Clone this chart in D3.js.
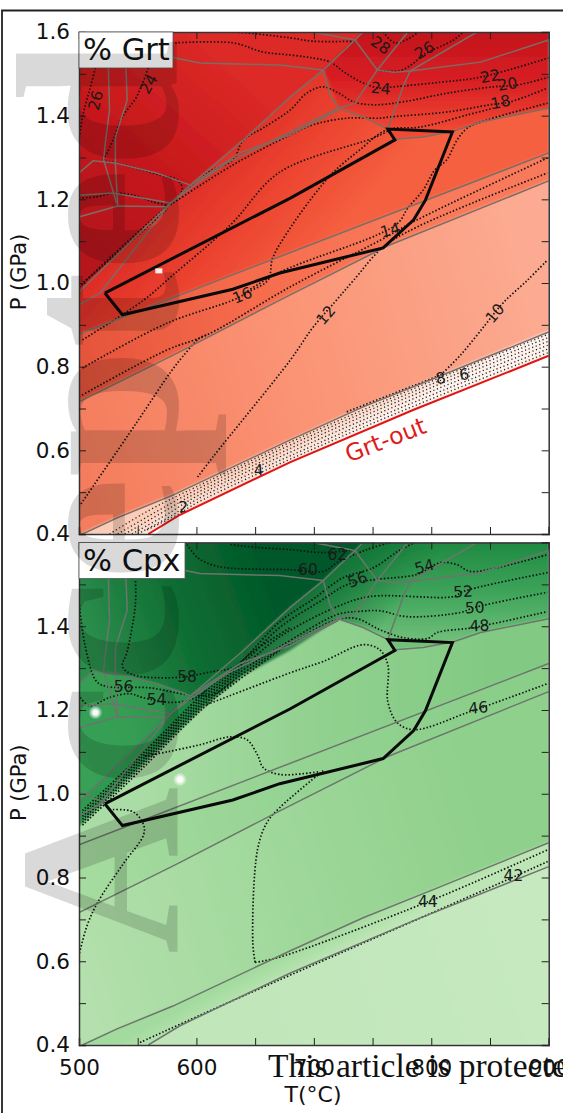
<!DOCTYPE html>
<html><head><meta charset="utf-8">
<script src="https://cdn.jsdelivr.net/npm/d3@7"></script>
<style>html,body{margin:0;padding:0;background:#fff;overflow:hidden}svg{display:block}text{font-family:"DejaVu Sans",sans-serif}</style>
</head><body><svg id="c" width="563" height="1113"></svg>
<script>
// ---- axis values
const tempTicks=[500,550,600,650,700,750,800,850,900];
const tempLabels=[500,600,700,800,900];
const presTicks=[0.4,0.5,0.6,0.7,0.8,0.9,1.0,1.1,1.2,1.3,1.4,1.5,1.6];
const presLabels=[0.4,0.6,0.8,1.0,1.2,1.4,1.6];
// ---- assemblage boundaries, [T, P]
const lineA=[[500,.878],[900,1.311]];
const lineB=[[500,.716],[584,.833],[671,.959],[763,1.089],[900,1.244]];
const lineBand=[[503,.4],[532,.438],[580,.493],[680,.625],[742,.704],[799,.768],[900,.883]];
const lineGrtOut=[[559,.4],[586,.446],[680,.572],[785,.697],[900,.826]];
const bounds=[
 lineA,lineB,lineBand,
 [[500,.979],[578,1.191],[595,1.234],[640,1.342],[680,1.445],[708,1.509],[735,1.581],[742,1.6]],
 [[500,.948],[518,.976],[578,1.191]],
 [[578,1.191],[595,1.227],[626,1.287],[680,1.361],[721,1.418]],
 [[595,1.234],[637,1.311],[680,1.354],[721,1.414]],
 [[721,1.418],[714,1.449],[708,1.509]],
 [[721,1.418],[735,1.43],[754,1.509],[780,1.6]],
 [[721,1.418],[742,1.397],[763,1.368]],
 [[754,1.509],[735,1.581]],
 [[754,1.509],[768,1.504],[782,1.507],[839,1.6]],
 [[782,1.507],[842,1.528],[900,1.581]],
 [[782,1.507],[776,1.469],[763,1.368]],
 [[763,1.368],[769,1.344],[793,1.349],[819,1.363],[842,1.385],[900,1.418]],
 [[708,1.509],[671,1.521],[603,1.526],[582,1.538],[569,1.557]],
 [[735,1.581],[699,1.6]],
 [[525,1.6],[525,1.514],[526,1.414],[522,1.325],[521,1.294],[532,1.191]],
 [[540,1.6],[540,1.514],[541,1.437],[531,1.349],[531,1.287],[533,1.182]],
 [[500,1.263],[512,1.292],[531,1.287],[566,1.263],[595,1.234]],
 [[500,1.21],[529,1.215],[578,1.191]],
 [[500,1.158],[533,1.184],[575,1.182],[578,1.191]]
];
const cpxExtraBounds=[lineGrtOut,[[500,1.005],[522,.979]]];
// ---- sampled P-T window
const windowPoly=[[522,.976],[537,.924],[631,.985],[671,1.024],[759,1.084],[785,1.151],[795,1.198],[818,1.361],[763,1.368],[769,1.342],[680,1.203],[522,.976]];
// ---- garnet isopleths
const grtIso=[
 [[514,1.514],[509,1.461],[503,1.397],[500,1.342]],
 [[559,1.514],[549,1.445],[537,1.397],[529,1.342],[524,1.311],[521,1.294],[532,1.287],[569,1.258],[584,1.246],[588,1.222],[578,1.191]],
 [[500,1.203],[515,1.206],[529,1.215],[546,1.21],[563,1.194],[575,1.182],[560,1.139],[504,1.002]],
 [[500,.99],[530,1.07],[578,1.191]],
 [[582,1.6],[631,1.6],[680,1.586],[699,1.578],[735,1.578]],
 [[759,1.6],[769,1.574],[780,1.583],[789,1.6]],
 [[582,1.574],[631,1.574],[657,1.552],[680,1.545],[699,1.538],[714,1.528],[727,1.502],[742,1.478],[756,1.466],[768,1.469],[808,1.48],[842,1.492],[900,1.538]],
 [[754,1.509],[773,1.507],[785,1.526],[793,1.545],[819,1.581],[827,1.6]],
 [[578,1.191],[609,1.263],[631,1.294],[640,1.342],[657,1.371],[680,1.414],[694,1.454],[708,1.469],[721,1.454],[734,1.433],[751,1.426],[776,1.433],[814,1.454],[853,1.469],[873,1.473],[900,1.492]],
 [[578,1.187],[631,1.282],[680,1.354],[699,1.378],[728,1.394],[756,1.394],[765,1.397],[814,1.409],[850,1.426],[867,1.433],[899,1.466]],
 [[503,.864],[555,.959],[580,1.019],[629,1.139],[671,1.265],[751,1.347],[765,1.366]],
 [[503,.797],[575,.904],[631,.959],[646,.981],[661,1.007],[665,1.06],[680,1.132],[699,1.206],[716,1.263],[739,1.318],[762,1.366],[791,1.373],[831,1.402],[853,1.418]],
 [[641,.976],[671,1.026],[754,1.115],[772,1.144],[780,1.179],[793,1.222],[803,1.27],[813,1.294],[822,1.342],[831,1.371],[848,1.39],[899,1.43]],
 [[500,.728],[575,.84],[609,.876],[680,.991],[757,1.103],[788,1.151],[899,1.299]],
 [[601,.536],[614,.584],[680,.816],[699,.893],[718,.955],[734,1.007],[759,1.086],[788,1.134],[899,1.263]],
 [[500,.465],[549,.666],[578,.787],[588,.823],[603,.869],[609,.876]],
 [[808,.78],[825,.828],[846,.9],[861,.952],[882,1.007],[899,1.055]],
 [[728,.692],[808,.78]]
];
const grtBandIso=[
 [[526,.4],[560,.457],[600,.513],[700,.645],[800,.765],[900,.878]],
 [[533,.4],[565,.452],[600,.506],[700,.638],[800,.758],[900,.87]],
 [[539,.4],[570,.45],[600,.498],[700,.63],[800,.75],[900,.861]],
 [[545,.4],[575,.447],[600,.49],[700,.621],[800,.741],[900,.852]],
 [[550,.4],[580,.446],[600,.482],[700,.612],[800,.732],[900,.843]],
 [[558,.41],[585,.448],[600,.474],[700,.604],[800,.723],[900,.834]]
];
const grtLabels=[["26",514,1.437,-75],["24",559,1.476,-60],["28",757,1.569,35],["26",794,1.557,-30],["24",757,1.466,5],["22",850,1.495,-10],["20",865,1.476,-10],["18",859,1.433,-12],["14",765,1.127,-15],["16",639,.971,-22],["12",710,.924,-50],["10",854,.928,-50],["8",808,.773,-10],["6",828,.782,-10],["4",653,.553,-5],["2",589,.465,-5]];
// ---- clinopyroxene isopleths
const cpxIso=[
 [[629,1.595],[652,1.588],[680,1.583],[708,1.576],[735,1.583]],
 [[592,1.595],[601,1.564],[618,1.543],[680,1.535],[708,1.531],[720,1.552],[745,1.583],[765,1.6]],
 [[503,.96],[552,1.09],[606,1.24],[640,1.32],[671,1.411],[699,1.464],[725,1.516],[751,1.54],[771,1.578],[786,1.6]],
 [[503,.953],[552,1.083],[606,1.233],[640,1.312],[671,1.397],[705,1.459],[729,1.5],[754,1.512],[788,1.524],[808,1.552],[822,1.547],[833,1.531],[856,1.54],[899,1.571]],
 [[503,.946],[552,1.076],[606,1.226],[640,1.304],[671,1.375],[720,1.447],[748,1.471],[819,1.471],[827,1.483],[899,1.528]],
 [[503,.939],[552,1.069],[606,1.219],[640,1.296],[671,1.351],[720,1.428],[737,1.435],[756,1.437],[779,1.423],[825,1.433],[837,1.445],[899,1.481]],
 [[503,.932],[552,1.062],[606,1.212],[640,1.288],[671,1.344],[720,1.416],[737,1.418],[756,1.392],[776,1.373],[797,1.371],[805,1.385],[836,1.397],[899,1.435]],
 [[503,.925],[552,1.055],[606,1.205],[640,1.28],[680,1.36]],
 [[548,1.516],[548,1.452],[541,1.339],[537,1.304],[546,1.284],[569,1.277],[592,1.28],[614,1.292],[631,1.301],[648,1.339],[680,1.397]],
 [[500,1.459],[505,1.356],[515,1.268],[524,1.256],[560,1.253],[592,1.237],[614,1.237],[631,1.268]],
 [[501,1.23],[509,1.21],[526,1.23],[543,1.239],[554,1.23],[580,1.218],[600,1.23],[609,1.249]],
 [[556,1.09],[575,1.1],[603,1.117],[629,1.136],[643,1.129],[652,1.093],[657,1.062],[671,1.046],[705,1.053]],
 [[609,1.213],[680,1.289],[708,1.316],[742,1.356],[756,1.344],[763,1.308],[763,1.22],[771,1.17],[785,1.153],[833,1.196],[899,1.263]],
 [[708,1.055],[671,.967],[660,.931],[652,.866],[648,.645],[650,.597]],
 [[650,.597],[671,.61],[797,.742],[899,.866]],
 [[552,.406],[603,.471],[680,.567],[865,.795],[899,.838]],
 [[526,.962],[546,.957],[555,.926],[555,.902],[537,.83],[516,.741],[507,.686],[500,.615]]
];
const cpxLabels=[["62",720,1.571,0],["60",695,1.535,0],["56",737,1.512,-20],["54",794,1.543,-15],["52",827,1.483,-3],["50",837,1.445,-3],["48",841,1.402,-3],["58",592,1.28,0],["56",538,1.256,0],["54",566,1.225,0],["46",840,1.206,-5],["44",797,.742,0],["42",870,.804,0]];
const cpxSpots=[[514,1.194],[586,1.034]];
const grtSpot=[568,1.029];
// ---- stability-field shading: outline, gradient start and end, colours
const polyWedge=[[500,1.6],[742,1.6],[708,1.509],[680,1.445],[640,1.342],[595,1.234],[578,1.191],[500,.979]];
const polyTopRight=[[742,1.6],[900,1.6],[900,1.418],[842,1.385],[819,1.363],[793,1.349],[769,1.344],[763,1.368],[742,1.397],[721,1.418],[708,1.509]];
const polyMid=[[500,.979],[578,1.191],[595,1.234],[640,1.342],[680,1.445],[708,1.509],[721,1.418],[742,1.397],[763,1.368],[769,1.344],[793,1.349],[819,1.363],[842,1.385],[900,1.418],[900,1.311],[500,.878]];
const polyAB=[[500,.878],[900,1.311],[900,1.244],[763,1.089],[671,.959],[584,.833],[500,.716]];
const polyBelow=[[500,.716],[584,.833],[671,.959],[763,1.089],[900,1.244],[900,.883],[799,.768],[742,.704],[680,.625],[580,.493],[532,.438],[503,.4],[500,.4]];
const polyBand=[[503,.4],[532,.438],[580,.493],[680,.625],[742,.704],[799,.768],[900,.883],[900,.826],[785,.697],[680,.572],[586,.446],[559,.4]];
const polyOut=[[559,.4],[586,.446],[680,.572],[785,.697],[900,.826],[900,.4]];
const polyCpxLeft=[[500,1.263],[512,1.292],[531,1.287],[566,1.263],[595,1.234],[578,1.191],[500,.979]];
const polyCpxDiag=[[500,.979],[578,1.191],[595,1.234],[640,1.342],[640,1.28],[606,1.203],[552,1.06],[503,.925],[500,.92]];
const polyCpxFan=[[640,1.342],[680,1.445],[708,1.509],[742,1.6],[900,1.6],[900,1.418],[842,1.385],[819,1.363],[793,1.349],[769,1.344],[763,1.368],[742,1.397],[721,1.415],[680,1.34],[640,1.28]];
const polyCpxLight=[[500,.878],[900,1.311],[900,1.418],[842,1.385],[819,1.363],[793,1.349],[769,1.344],[763,1.368],[742,1.397],[721,1.415],[680,1.34],[640,1.28],[606,1.203],[552,1.06],[503,.925],[500,.92]];
const grtFields=[
 [polyWedge,[510,1.1],[640,1.5],["#b5131a","#c81a1e","#dd2a26"]],
 [polyTopRight,[790,1.6],[790,1.36],["#c2131c","#d92024","#f04a34"]],
 [polyMid,[600,1.3],[700,1.05],["#dc2c27","#ec4430","#f5603f"]],
 [polyAB,[500,.8],[800,1.05],["#e5533a","#f66c4d","#f97a5a"]],
 [polyBelow,[500,.6],[900,.9],["#f47d5d","#fb9576","#fcab92"]],
 [polyBand,[680,.625],[690,.572],["#fbcdb8","#fce0d3","#fef2ec"]]
];
const cpxFields=[
 [polyWedge,[510,1.35],[660,1.5],["#2c8e4c","#0f6e33","#02592a"]],
 [polyCpxLeft,[500,1.1],[590,1.2],["#37a155","#349e53","#2a8f4c"]],
 [polyCpxDiag,[520,1.1],[640,1.3],["#2e9a50","#1f8a44","#0f6f34"]],
 [polyCpxFan,[800,1.6],[800,1.36],["#1f8a42","#3ea45a","#72c07b"]],
 [polyCpxFan,[690,1.58],[765,1.42],["#045a29ff","#0f6f34aa","#0f6f3400"]],
 [polyCpxLight,[550,1.1],[850,1.1],["#aadda5","#92d190","#82ca83"]],
 [polyAB,[500,.8],[850,1.1],["#a6dba0","#96d494","#8bce8a"]],
 [polyBelow,[500,.6],[850,.9],["#b3e0ac","#a0d89b","#8fd08c"]],
 [polyBand,[680,.625],[690,.572],["#a3da9e","#afe0a9","#bde5b5"]],
 [polyOut,[560,.4],[900,.7],["#bfe5b8","#c3e7bc","#c7e9c0"]]
];

const svg=d3.select("#c");
const defs=svg.append("defs");
defs.append("filter").attr("id","soft").attr("filterUnits","userSpaceOnUse")
 .attr("x",0).attr("y",0).attr("width",563).attr("height",1113)
 .append("feGaussianBlur").attr("stdDeviation",0.8);
const rg=defs.append("radialGradient").attr("id","spot");
rg.append("stop").attr("offset",0.35).attr("stop-color","#fff").attr("stop-opacity",.95);
rg.append("stop").attr("offset",1).attr("stop-color","#fff").attr("stop-opacity",0);

svg.append("rect").attr("width",563).attr("height",1113).attr("fill","#fff");
// outer frame
{const p=d3.path();p.moveTo(2,1113);p.lineTo(2,10.5);p.lineTo(563,10.5);
 svg.append("path").attr("d",p.toString()).attr("fill","none").attr("stroke","#222").attr("stroke-width",1.8);}

function panel(id,top,bottom,fields,iso,thinIso,labels,extraBounds,gray,box,boxW,showTop){
 const x=d3.scaleLinear().domain([500,900]).range([79,548.7]);
 const y=d3.scaleLinear().domain([0.4,1.6]).range([bottom,top]);
 const g=svg.append("g");
 defs.append("clipPath").attr("id","clip"+id).append("rect").attr("x",79).attr("y",top).attr("width",469.7).attr("height",bottom-top);
 const plot=g.append("g").attr("clip-path",`url(#clip${id})`);
 const shade=plot.append("g").attr("filter","url(#soft)");
 const poly=d3.line().x(d=>x(d[0])).y(d=>y(d[1]));
 fields.forEach((f,i)=>{
  const gid=`f${id}${i}`;
  const lg=defs.append("linearGradient").attr("id",gid).attr("gradientUnits","userSpaceOnUse")
   .attr("x1",x(f[1][0])).attr("y1",y(f[1][1])).attr("x2",x(f[2][0])).attr("y2",y(f[2][1]));
  f[3].forEach((c,j)=>lg.append("stop").attr("offset",j/(f[3].length-1)).attr("stop-color",c));
  shade.append("path").attr("d",poly(f[0])+"Z").attr("fill",`url(#${gid})`).attr("stroke",`url(#${gid})`).attr("stroke-width",1.5);
 });
 // dotted isopleths
 const smooth=d3.line().x(d=>x(d[0])).y(d=>y(d[1])).curve(d3.curveCatmullRom.alpha(.5));
 plot.selectAll("path.iso").data(iso).join("path").attr("class","iso").attr("d",smooth)
  .attr("fill","none").attr("stroke","#111").attr("stroke-width",1.7).attr("stroke-dasharray","1.5 2");
 plot.selectAll("path.thin").data(thinIso).join("path").attr("class","thin").attr("d",smooth)
  .attr("fill","none").attr("stroke","#222").attr("stroke-width",1.3).attr("stroke-dasharray","1.2 2.6");
 // boundaries
 plot.selectAll("path.bnd").data(bounds.concat(extraBounds)).join("path").attr("class","bnd").attr("d",poly)
  .attr("fill","none").attr("stroke",gray).attr("stroke-width",1.5);
 // window
 plot.append("path").attr("d",poly(windowPoly)).attr("fill","none").attr("stroke","#0a0a0a")
  .attr("stroke-width",3).attr("stroke-linejoin","miter");
 // labels
 plot.selectAll("text.iso").data(labels).join("text").attr("class","iso")
  .attr("transform",d=>`translate(${x(d[1])},${y(d[2])}) rotate(${d[3]})`)
  .attr("text-anchor","middle").attr("dy",".36em").attr("font-size",15.5).attr("fill","#1a1a1a").text(d=>d[0]);
 // axes
 const axB=d3.axisBottom(x).tickValues(tempTicks).tickSize(-7).tickPadding(14.5).tickFormat(d=>(!showTop&&tempLabels.includes(d))?d:"");
 const axT=d3.axisTop(x).tickValues(tempTicks).tickSize(-7).tickFormat("");
 const axL=d3.axisLeft(y).tickValues(presTicks).tickSize(-7).tickPadding(9)
  .tickFormat(d=>{const k=presLabels.find(v=>Math.abs(v-d)<1e-6);return (k!==undefined&&(showTop||k<1.5))?d3.format(".1f")(d):"";});
 const axR=d3.axisRight(y).tickValues(presTicks).tickSize(-7).tickFormat("");
 const add=(ax,tr)=>{const a=g.append("g").attr("transform",tr).call(ax);
  a.selectAll("line").attr("stroke","#222").attr("stroke-width",1);
  a.select(".domain").attr("stroke","#333").attr("stroke-width",1.5);
  a.selectAll("text").attr("font-size",21.5).attr("fill","#111").attr("font-family",'"DejaVu Sans",sans-serif');
  return a;};
 add(axB,`translate(0,${bottom})`);add(axT,`translate(0,${top})`);add(axL,"translate(79,0)");add(axR,"translate(548.7,0)");
 // title box
 g.append("rect").attr("x",79).attr("y",top).attr("width",boxW).attr("height",36).attr("fill","#fff").attr("stroke","#555").attr("stroke-width",.8);
 g.append("text").attr("x",83).attr("y",top+28).attr("font-size",30.5).attr("fill","#111").text(box);
 // y title
 g.append("text").attr("transform",`translate(26,${(top+bottom)/2-11}) rotate(-90)`).attr("text-anchor","middle")
  .attr("font-size",21).attr("fill","#111").text("P (GPa)");
 return {x,y,g,plot};
}
const p1=panel("a",32,534,grtFields,grtIso,grtBandIso,grtLabels,[],"#7a6d66","% Grt",94,true);
const p2=panel("b",542.5,1045,cpxFields,cpxIso,[],cpxLabels,cpxExtraBounds,"#6c766c","% Cpx",106,false);

// Grt-out
p1.plot.append("path").attr("d",d3.line().x(d=>p1.x(d[0])).y(d=>p1.y(d[1]))(lineGrtOut)).attr("fill","none").attr("stroke","#e01414").attr("stroke-width",2);
p1.g.append("text").attr("transform",`translate(${p1.x(761)},${p1.y(.626)}) rotate(-21)`).attr("text-anchor","middle").attr("dy",".36em")
 .attr("font-size",23.5).attr("fill","#e01a1a").text("Grt-out");
p1.plot.append("rect").attr("x",p1.x(grtSpot[0])-3.5).attr("y",p1.y(grtSpot[1])-2.5).attr("width",7).attr("height",5).attr("fill","#f6f0ec");
p2.plot.selectAll("circle.s").data(cpxSpots).join("circle").attr("cx",d=>p2.x(d[0])).attr("cy",d=>p2.y(d[1])).attr("r",7).attr("fill","url(#spot)");

// x title and notices
svg.append("text").attr("x",313).attr("y",1102).attr("text-anchor","middle").attr("font-size",22).attr("fill","#111").text("T(°C)");
svg.append("text").attr("x",268).attr("y",1077).attr("font-size",33.5).attr("fill","#111")
 .style("font-family",'"Liberation Serif",serif').text("This article is protected by copyright. All rights reserved.");
svg.append("text").attr("transform","translate(177,954) rotate(-90)").attr("font-size",232).attr("font-weight","bold")
 .style("font-family",'"Liberation Serif",serif').attr("fill","#000").attr("fill-opacity",.15).text("Accepted");
</script></body></html>
